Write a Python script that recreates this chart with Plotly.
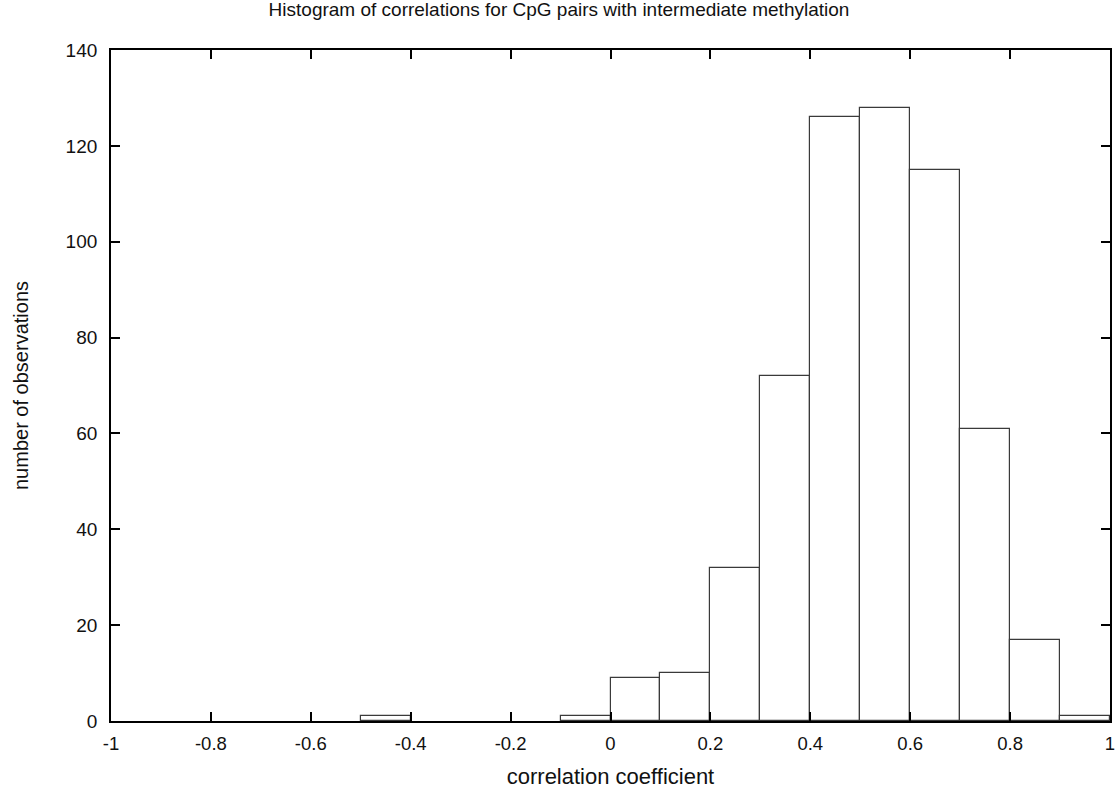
import plotly.graph_objects as go

bin_starts = [-1.0, -0.9, -0.8, -0.7, -0.6, -0.5, -0.4, -0.3, -0.2, -0.1,
              0.0, 0.1, 0.2, 0.3, 0.4, 0.5, 0.6, 0.7, 0.8, 0.9]
counts = [0, 0, 0, 0, 0, 1, 0, 0, 0, 1,
          9, 10, 32, 72, 126, 128, 115, 61, 17, 1]
bin_width = 0.1
x_ticks = [-1, -0.8, -0.6, -0.4, -0.2, 0, 0.2, 0.4, 0.6, 0.8, 1]
x_tick_labels = ["-1", "-0.8", "-0.6", "-0.4", "-0.2", "0", "0.2", "0.4", "0.6", "0.8", "1"]
y_ticks = [0, 20, 40, 60, 80, 100, 120, 140]

centers = [s + bin_width / 2 for s in bin_starts]
line_widths = [1.2 if c > 0 else 0 for c in counts]

fig = go.Figure()
fig.add_trace(go.Bar(
    x=centers, y=counts, width=[bin_width] * len(counts),
    marker=dict(color="white", line=dict(color="#3a3a3a", width=line_widths)),
    showlegend=False,
))

font = "Liberation Sans, Arial, sans-serif"
fig.update_layout(
    width=1118, height=789,
    margin=dict(l=111, r=8, t=50, b=68),
    paper_bgcolor="white", plot_bgcolor="white",
    font=dict(family=font, size=19, color="#111111"),
    title=dict(text="Histogram of correlations for CpG pairs with intermediate methylation",
               x=0.5, xanchor="center", xref="container",
               yref="container", y=1 - 3 / 789, yanchor="top",
               font=dict(size=19, family=font)),
    bargap=0,
)
fig.update_xaxes(
    range=[-1, 1], tickvals=x_ticks, ticktext=x_tick_labels,
    ticks="inside", ticklen=9, tickwidth=1.5, tickcolor="black",
    showline=True, linecolor="black", linewidth=1.8, mirror="ticks",
    showgrid=False, zeroline=False, automargin=False,
    tickfont=dict(size=18.5),
    title=dict(text="correlation coefficient", standoff=16, font=dict(size=22)),
    ticklabelstandoff=5,
)
fig.update_yaxes(
    range=[0, 140], tickvals=y_ticks,
    ticks="inside", ticklen=9, tickwidth=1.5, tickcolor="black",
    showline=True, linecolor="black", linewidth=1.8, mirror="ticks",
    showgrid=False, zeroline=False, automargin=False,
    tickfont=dict(size=19),
    title=dict(text="number of observations", standoff=32, font=dict(size=20)),
    ticklabelstandoff=8,
)

fig.write_html("out.html")
